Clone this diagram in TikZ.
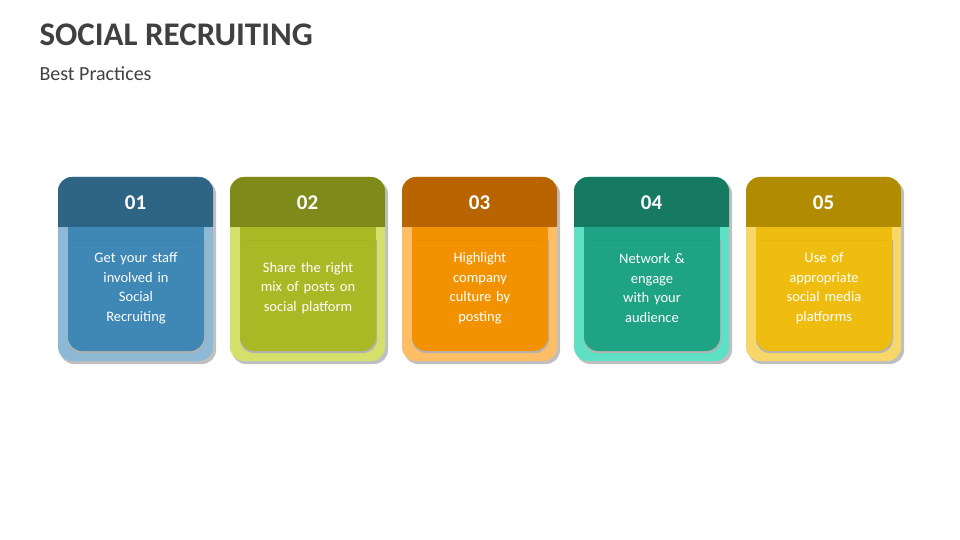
\documentclass[tikz,border=0pt]{standalone}
\usepackage{fontspec}
\setmainfont{Carlito}
\begin{document}
\begin{tikzpicture}[x=1pt,y=-1pt,
  hdr/.style={font=\bfseries\fontsize{21}{24}\selectfont,text=white},
  body/.style={font=\fontsize{14.5}{19.5}\selectfont,text=white,align=center,text width=110pt}]
\useasboundingbox (0,0) rectangle (960,540);
\node[anchor=west,font=\bfseries\fontsize{33}{38}\selectfont,text={rgb,255:red,64;green,64;blue,64}] (title) at (36,35) {SOCIAL RECRUITING};
\node[anchor=west,font=\fontsize{20}{24}\selectfont,text={rgb,255:red,64;green,64;blue,64}] (sub) at (36,74) {Best Practices};
\foreach \i/\hc/\lc/\ic/\num/\txt in {
 0/2E6585/8DB9D4/3F88B5/01/{Get your staff\\involved in\\Social\\Recruiting},
 1/7E8A1A/D4E06B/A9B825/02/{Share the right\\mix of posts on\\social platform},
 2/B86400/FFBE66/F39200/03/{Highlight\\company\\culture by\\posting},
 3/167A63/5EE0C4/1EA385/04/{Network \&\\engage\\with your\\audience},
 4/B28C00/F7D76A/EFBD10/05/{Use of\\appropriate\\social media\\platforms}}{
  \pgfmathsetmacro{\xo}{58+172*\i}
  \definecolor{hc}{HTML}{\hc}\definecolor{lc}{HTML}{\lc}\definecolor{ic}{HTML}{\ic}
  \fill[black!25,rounded corners=14pt] (\xo+2,180) rectangle (\xo+158,364);
  \fill[lc,rounded corners=14pt] (\xo,177) rectangle (\xo+155,361);
  \fill[black!30,rounded corners=14pt] (\xo+10,227) rectangle (\xo+147,353);
  \fill[ic,rounded corners=14pt] (\xo+10,227) rectangle (\xo+146,351);
  \fill[ic] (\xo+10,227) rectangle (\xo+146,250);
  \fill[hc,rounded corners=14pt] (\xo,177) rectangle (\xo+155,240);
  \fill[hc] (\xo,215) rectangle (\xo+155,227);
  \fill[lc] (\xo,227) rectangle (\xo+10,240);
  \fill[lc] (\xo+146,227) rectangle (\xo+155,240);
  \fill[ic] (\xo+10,227) rectangle (\xo+146,240);
  \node[hdr] (n\i) at (\xo+77.5,203) {\num};
  \node[body] (t\i) at (\xo+78,288) {\txt};
}
\end{tikzpicture}
\end{document}
